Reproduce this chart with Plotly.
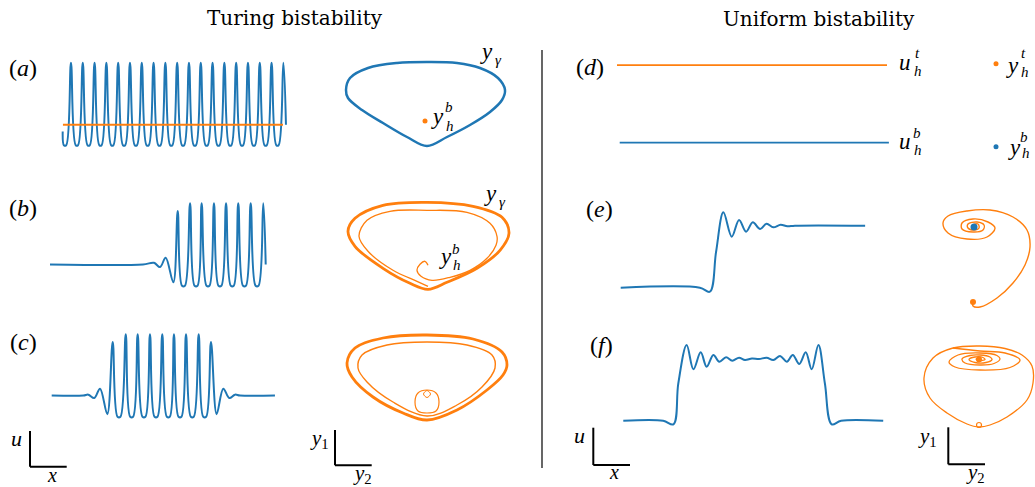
import plotly.graph_objects as go

W, H = 1035, 487
BLUE = "#1f77b4"
ORANGE = "#ff7f0e"
TITLE_FONT = "DejaVu Serif"
MATH_FONT = "Liberation Serif"

# ---------------- spatial profiles u(x) ----------------
# (a) periodic Turing pattern and homogeneous state
a_x = [0.06,
       0.16, 0.36, 0.76, 1.16, 1.36, 1.76, 2.16, 2.36, 2.76, 3.16, 3.36, 3.76,
       4.16, 4.36, 4.76, 5.16, 5.36, 5.76, 6.16, 6.36, 6.76, 7.16, 7.36, 7.76,
       8.16, 8.36, 8.76, 9.16, 9.36, 9.76, 10.16, 10.36, 10.76, 11.16, 11.36, 11.76,
       12.16, 12.36, 12.76, 13.16, 13.36, 13.76, 14.16, 14.36, 14.76, 15.16, 15.36, 15.76,
       16.16, 16.36, 16.76, 17.16, 17.36, 17.76, 18.16, 18.36, 18.76,
       18.98]
a_u = [0.19,
       0.03, 0.03, 1, 0.03, 0.03, 1, 0.03, 0.03, 1, 0.03, 0.03, 1,
       0.03, 0.03, 1, 0.03, 0.03, 1, 0.03, 0.03, 1, 0.03, 0.03, 1,
       0.03, 0.03, 1, 0.03, 0.03, 1, 0.03, 0.03, 1, 0.03, 0.03, 1,
       0.03, 0.03, 1, 0.03, 0.03, 1, 0.03, 0.03, 1, 0.03, 0.03, 1,
       0.03, 0.03, 1, 0.03, 0.03, 1, 0.03, 0.03, 1,
       0.27]
a_hom_x = [0.08, 18.73]
a_hom_u = [0.27, 0.27]

# (b) front between homogeneous state and pattern
b_x = [0, 7.62, 8.52, 9.02, 9.48, 10.11, 10.47, 10.82, 11.06, 11.48, 11.85, 12.09, 12.43,
       12.83, 13.07, 13.44, 13.81, 14.05, 14.43, 14.82, 15.06, 15.43, 15.82, 16.06, 16.45,
       16.85, 17.09, 17.48, 17.68]
b_u = [0.28, 0.28, 0.30, 0.25, 0.36, 0.07, 0.91, 0.03, 0.03, 1, 0.03, 0.03, 1,
       0.03, 0.03, 1, 0.03, 0.03, 1, 0.03, 0.03, 1, 0.03, 0.03, 1,
       0.03, 0.03, 1, 0.28]

# (c) localized pattern
c_x = [0, 2.57, 2.98, 3.46, 3.93, 4.52, 4.96, 5.35, 5.59, 6.02, 6.38, 6.62, 6.99, 7.38, 7.62,
       7.99, 8.36, 8.60, 8.99, 9.36, 9.60, 9.94, 10.31, 10.55, 10.92, 11.31, 11.55, 11.95,
       12.32, 12.56, 12.95, 13.41, 13.95, 14.44, 14.90, 15.31, 18.15]
c_u = [0.28, 0.28, 0.29, 0.25, 0.36, 0.06, 0.91, 0.03, 0.03, 1, 0.03, 0.03, 1, 0.03, 0.03,
       1, 0.03, 0.03, 1, 0.03, 0.03, 1, 0.03, 0.03, 1, 0.03, 0.03, 1,
       0.03, 0.03, 0.91, 0.06, 0.36, 0.25, 0.29, 0.28, 0.28]

# (d) two uniform states
d_top_x = [0, 100]
d_top_u = [1.25, 1.25]
d_bot_x = [1, 100.7]
d_bot_u = [0, 0]

# (e) uniform front
e_x = [1.37, 30.7, 34.4, 36.7, 39.4, 42.5, 45.2, 47.8, 50.3, 53.0, 55.4, 57.9, 60.6, 63.1, 65.9, 91.9]
e_u = [0, 0, -0.065, 0.58, 1.216, 0.823, 1.092, 0.903, 1.055, 0.947, 1.032, 0.974, 1.016, 0.990, 1.0, 1.0]

# (f) localized plateau
f_x = [2.33, 17.1, 20.9, 22.7, 25.8, 28.3, 31.0, 33.2, 35.7, 37.9, 40.4, 42.7, 45.2, 47.4, 50.0,
       52.6, 55.4, 57.9, 60.4, 62.9, 65.1, 67.5, 69.9, 72.1, 74.6, 77.0, 79.5, 83.0, 98.6]
f_u = [0, 0, -0.058, 0.60, 1.221, 0.829, 1.103, 0.871, 1.060, 0.952, 1.023, 0.968, 1.016, 0.979,
       1.003, 0.995, 1.016, 0.979, 1.044, 0.952, 1.060, 0.915, 1.103, 0.829, 1.221, 0.60, -0.058, 0, 0]

# ---------------- phase portraits (y2, y1) ----------------
a_loop_y2 = [0, 0.2, 0.43, 0.63, 0.75, 0.78, 0.71, 0.53, 0.3, 0, -0.3, -0.59, -0.77, -0.81, -0.79, -0.65, -0.44, -0.2, 0]
a_loop_y1 = [0, 0.09, 0.21, 0.34, 0.46, 0.56, 0.68, 0.78, 0.83, 0.84, 0.83, 0.78, 0.68, 0.56, 0.48, 0.36, 0.23, 0.09, 0]
a_eq_y2 = [-0.02]
a_eq_y1 = [0.25]

b_spiral_y2 = [0.01, -0.02, -0.07, -0.1, -0.06, 0.05, 0.23, 0.43, 0.6, 0.69, 0.7, 0.63, 0.4, 0, -0.37, -0.6, -0.68, -0.59, -0.34, -0.1, 0.01]
b_spiral_y1 = [0.24, 0.28, 0.25, 0.19, 0.13, 0.09, 0.12, 0.19, 0.31, 0.44, 0.53, 0.66, 0.77, 0.79, 0.78, 0.69, 0.53, 0.38, 0.19, 0.08, 0.03]
b_cycle_y2 = [0.01, 0.2, 0.5, 0.73, 0.82, 0.75, 0.46, 0, -0.44, -0.72, -0.79, -0.72, -0.44, -0.17, 0.01]
b_cycle_y1 = [0, 0.07, 0.21, 0.39, 0.56, 0.72, 0.83, 0.87, 0.84, 0.71, 0.58, 0.43, 0.21, 0.06, 0]

c_cycle_y2 = [0, 0.3, 0.6, 0.76, 0.8, 0.75, 0.46, 0, -0.44, -0.72, -0.8, -0.75, -0.54, -0.24, 0]
c_cycle_y1 = [0, 0.1, 0.3, 0.45, 0.55, 0.68, 0.81, 0.85, 0.82, 0.72, 0.57, 0.43, 0.23, 0.07, 0]
c_inner_y2 = [0, 0.3, 0.55, 0.68, 0.65, 0.4, 0, -0.4, -0.65, -0.69, -0.6, -0.34, 0]
c_inner_y1 = [0.04, 0.15, 0.33, 0.52, 0.65, 0.75, 0.78, 0.75, 0.65, 0.52, 0.38, 0.18, 0.04]
c_bubble_y2 = [0, 0.09, 0.12, 0.09, 0, -0.09, -0.12, -0.09, 0]
c_bubble_y1 = [0.07, 0.09, 0.18, 0.27, 0.30, 0.27, 0.18, 0.09, 0.07]
c_tiny_y2 = [0, 0.035, 0, -0.035, 0]
c_tiny_y1 = [0.225, 0.26, 0.295, 0.26, 0.225]

d_eq_y2 = [0, 0]
d_eq_y1 = [0.83, 0]

e_sp_y2 = [-0.01, -0.01, 0.06, 0.23, 0.39, 0.51, 0.56, 0.53, 0.39, 0.16, -0.07, -0.26, -0.31, -0.26, -0.07,
           0.13, 0.21, 0.14, -0.01, -0.12, -0.12, -0.01, 0.09, 0.1, 0.03, -0.06, -0.06, 0.0, 0.05, 0.04,
           -0.01, -0.02, 0.0]
e_sp_y1 = [-0.02, -0.06, -0.07, 0.02, 0.17, 0.35, 0.53, 0.70, 0.83, 0.90, 0.89, 0.84, 0.77, 0.67, 0.61,
           0.63, 0.72, 0.78, 0.81, 0.77, 0.71, 0.68, 0.70, 0.75, 0.78, 0.76, 0.72, 0.70, 0.72, 0.76,
           0.75, 0.73, 0.73]

f_tear_y2 = [0.0, 0.11, 0.28, 0.48, 0.54, 0.53, 0.43, 0.26, 0.01, -0.26, -0.46, -0.55, -0.49, -0.32, -0.12, 0.0]
f_tear_y1 = [0.0, 0.02, 0.10, 0.27, 0.44, 0.61, 0.72, 0.785, 0.81, 0.79, 0.69, 0.49, 0.29, 0.14, 0.03, 0.0]
f_sp_y2 = [-0.26, 0.01, 0.26, 0.41, 0.31, 0.01, -0.24, -0.3, -0.21, 0.01, 0.18, 0.21, 0.15, 0.01, -0.14,
           -0.17, -0.09, 0.01, 0.11, 0.13, 0.07, -0.04, -0.1, -0.04, 0.04, 0.06, 0.0, -0.03, 0.0]
f_sp_y1 = [0.79, 0.76, 0.74, 0.67, 0.595, 0.57, 0.60, 0.65, 0.72, 0.74, 0.715, 0.68, 0.635, 0.62, 0.64,
           0.68, 0.715, 0.72, 0.70, 0.675, 0.645, 0.645, 0.675, 0.70, 0.695, 0.675, 0.665, 0.68, 0.685]

# ---------------- figure construction ----------------
fig = go.Figure()
axes_layout = {}
counter = [0]


def panel(ox, oy, sx, sy, xr, yr):
    counter[0] += 1
    n = counter[0]
    left = max(ox + xr[0] * sx, 0)
    right = min(ox + xr[1] * sx, W)
    top = max(oy - yr[1] * sy, 0)
    bottom = min(oy - yr[0] * sy, H)
    xr2 = [(left - ox) / sx, (right - ox) / sx]
    yr2 = [(oy - bottom) / sy, (oy - top) / sy]
    s = "" if n == 1 else str(n)
    axes_layout["xaxis" + s] = dict(domain=[left / W, right / W], range=xr2, visible=False,
                                    anchor="y" + s, fixedrange=True)
    axes_layout["yaxis" + s] = dict(domain=[1 - bottom / H, 1 - top / H], range=yr2, visible=False,
                                    anchor="x" + s, fixedrange=True)
    return ("x" + s, "y" + s)


def curve(ax, x, y, color, width, spline=True):
    fig.add_trace(go.Scatter(x=x, y=y, mode="lines",
                             line=dict(color=color, width=width,
                                       shape="spline" if spline else "linear", smoothing=1),
                             xaxis=ax[0], yaxis=ax[1], hoverinfo="skip", showlegend=False))


def points(ax, x, y, colors, size, symbol="circle"):
    fig.add_trace(go.Scatter(x=x, y=y, mode="markers",
                             marker=dict(color=colors, size=size, symbol=symbol,
                                         line=dict(width=1.2, color=colors) if "open" in symbol else dict(width=0)),
                             xaxis=ax[0], yaxis=ax[1], hoverinfo="skip", showlegend=False))


# profile panels
pa = panel(62, 147.7, 11.8, 85, [-0.4, 19.5], [-0.15, 1.15])
curve(pa, a_x, a_u, BLUE, 2)
curve(pa, a_hom_x, a_hom_u, ORANGE, 2, spline=False)

pb = panel(50, 288.3, 12.2, 85, [-0.4, 18.2], [-0.15, 1.15])
curve(pb, b_x, b_u, BLUE, 2)

pc = panel(51.7, 419.3, 12.3, 85, [-0.4, 18.6], [-0.15, 1.15])
curve(pc, c_x, c_u, BLUE, 2)

pd = panel(617, 142.7, 2.7, 62, [-2, 102], [-0.3, 1.5])
curve(pd, d_top_x, d_top_u, ORANGE, 1.8, spline=False)
curve(pd, d_bot_x, d_bot_u, BLUE, 1.8, spline=False)

pe = panel(617, 287.7, 2.7, 62, [-2, 102], [-0.3, 1.5])
curve(pe, e_x, e_u, BLUE, 2)

pf = panel(617, 420.7, 2.7, 62, [-2, 102], [-0.3, 1.5])
curve(pf, f_x, f_u, BLUE, 2)

# phase panels
qa = panel(427, 146, 100, 100, [-0.95, 0.95], [-0.08, 0.95])
curve(qa, a_loop_y2, a_loop_y1, BLUE, 2.5)
points(qa, a_eq_y2, a_eq_y1, ORANGE, 5)

qb = panel(427, 289.3, 100, 100, [-0.95, 0.95], [-0.08, 0.95])
curve(qb, b_spiral_y2, b_spiral_y1, ORANGE, 1.3)
curve(qb, b_cycle_y2, b_cycle_y1, ORANGE, 2.8)

qc = panel(427, 420, 100, 100, [-0.95, 0.95], [-0.08, 0.95])
curve(qc, c_cycle_y2, c_cycle_y1, ORANGE, 2.8)
curve(qc, c_inner_y2, c_inner_y1, ORANGE, 1.4)
curve(qc, c_bubble_y2, c_bubble_y1, ORANGE, 1.2)
curve(qc, c_tiny_y2, c_tiny_y1, ORANGE, 1.0)

qd = panel(996, 146.7, 100, 100, [-0.3, 0.3], [-0.1, 0.95])
points(qd, d_eq_y2, d_eq_y1, [ORANGE, BLUE], 5)

qe = panel(974, 300, 100, 100, [-0.4, 0.6], [-0.12, 0.95])
curve(qe, e_sp_y2, e_sp_y1, ORANGE, 1.4)
points(qe, [e_sp_y2[0]], [e_sp_y1[0]], ORANGE, 6)
points(qe, [e_sp_y2[-1]], [e_sp_y1[-1]], BLUE, 7)

qf = panel(979, 427, 100, 100, [-0.6, 0.56], [-0.08, 0.85])
curve(qf, f_tear_y2, f_tear_y1, ORANGE, 1.3)
curve(qf, f_sp_y2, f_sp_y1, ORANGE, 1.3)
points(qf, [f_sp_y2[-1]], [f_sp_y1[-1] - 0.01], ORANGE, 6)
points(qf, [0.0], [0.02], ORANGE, 5, symbol="circle-open")


# ---------------- text ----------------
def ann(text, px, py, size, family=MATH_FONT, xa="center", ya="middle"):
    return dict(x=px / W, y=1 - py / H, xref="paper", yref="paper", text=text, showarrow=False,
                font=dict(family=family, size=size, color="black"), xanchor=xa, yanchor=ya)


M, S = 23, 15   # math main size, script size
annotations = [
    ann("Turing bistability", 295, 18, 20, family=TITLE_FONT),
    ann("Uniform bistability", 819, 19, 20, family=TITLE_FONT),
    ann("(<i>a</i>)", 23, 68, 24),
    ann("(<i>b</i>)", 23, 208, 24),
    ann("(<i>c</i>)", 23, 342, 24),
    ann("(<i>d</i>)", 590, 67, 24),
    ann("(<i>e</i>)", 599, 209, 24),
    ann("(<i>f</i>)", 601, 345, 24),
    # (a) phase labels
    ann("<i>y</i>", 486, 51, M), ann("<i>γ</i>", 498, 60, S),
    ann("<i>y</i>", 437, 117, M), ann("<i>b</i>", 449, 107, S), ann("<i>h</i>", 450, 126, S),
    # (b) phase labels
    ann("<i>y</i>", 490, 193, M), ann("<i>γ</i>", 502, 202, S),
    ann("<i>y</i>", 445, 256, M), ann("<i>b</i>", 456, 249, S), ann("<i>h</i>", 457, 265, S),
    # (d) labels
    ann("<i>u</i>", 905, 63, M), ann("<i>t</i>", 917, 53, S), ann("<i>h</i>", 918, 71, S),
    ann("<i>u</i>", 905, 141, M), ann("<i>b</i>", 917, 133, S), ann("<i>h</i>", 918, 150, S),
    ann("<i>y</i>", 1012, 65, M), ann("<i>t</i>", 1023, 53, S), ann("<i>h</i>", 1025, 72, S),
    ann("<i>y</i>", 1014, 147, M), ann("<i>b</i>", 1024, 137, S), ann("<i>h</i>", 1026, 153, S),
    # scale bars
    ann("<i>u</i>", 16, 438, 22), ann("<i>x</i>", 52, 475, 20),
    ann("<i>y</i><sub>1</sub>", 319, 439, 21), ann("<i>y</i><sub>2</sub>", 362, 474, 21),
    ann("<i>u</i>", 579, 435, 22), ann("<i>x</i>", 614, 472, 20),
    ann("<i>y</i><sub>1</sub>", 927, 437, 21), ann("<i>y</i><sub>2</sub>", 975, 473, 21),
]


def seg(x0, y0, x1, y1, width):
    return dict(type="line", xref="paper", yref="paper", x0=x0 / W, y0=1 - y0 / H,
                x1=x1 / W, y1=1 - y1 / H, line=dict(color="black", width=width))


shapes = [
    seg(542, 50, 542, 468, 1.2),
    seg(30, 431, 30, 466.7, 2), seg(30, 466.7, 66.7, 466.7, 2),
    seg(335, 430, 335, 465.3, 2), seg(335, 465.3, 371.7, 465.3, 2),
    seg(593.3, 427.7, 593.3, 465, 2), seg(593.3, 465, 630, 465, 2),
    seg(948.3, 427.3, 948.3, 464.3, 2), seg(948.3, 464.3, 985, 464.3, 2),
]

fig.update_layout(**axes_layout)
fig.update_layout(width=W, height=H, margin=dict(l=0, r=0, t=0, b=0), autosize=False,
                  paper_bgcolor="white", plot_bgcolor="rgba(0,0,0,0)", showlegend=False,
                  annotations=annotations, shapes=shapes)

fig.write_html("out.html")
